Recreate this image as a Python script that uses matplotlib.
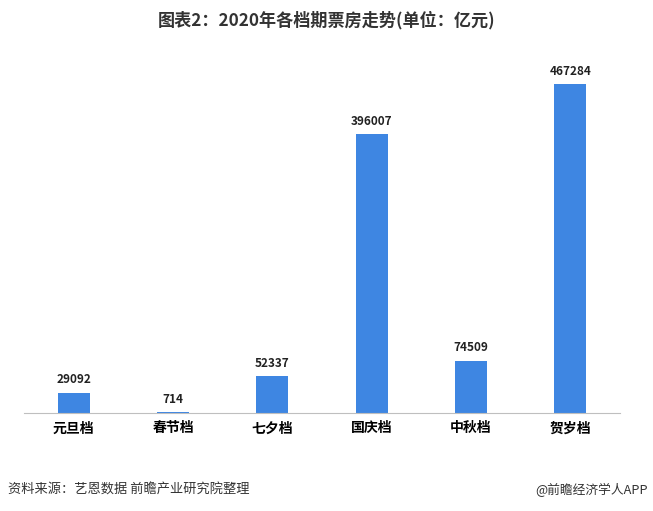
import matplotlib.pyplot as plt

plt.rcParams['font.family'] = ['Noto Sans CJK SC', 'DejaVu Sans']

categories = ['元旦档', '春节档', '七夕档', '国庆档', '中秋档', '贺岁档']
values = [29092, 714, 52337, 396007, 74509, 467284]

fig = plt.figure(figsize=(6.53, 5.11), dpi=100)
ax = fig.add_axes([24/653, 98/511, 596/653, 352/511])

x = range(len(categories))
bars = ax.bar(x, values, width=0.32, color='#3E86E2')
for b, v in zip(bars, values):
    ax.text(b.get_x() + b.get_width()/2, v + 9000, str(v), ha='center', va='bottom',
            fontsize=8.5, fontweight='bold', color='#222222')

ax.set_xlim(-0.5, 5.5)
ax.set_ylim(0, 500000)
ax.set_xticks(list(x))
ax.set_xticklabels(categories, fontsize=10, fontweight='bold')
ax.tick_params(axis='x', length=0, pad=6)
ax.set_yticks([])
for s in ['top', 'right', 'left']:
    ax.spines[s].set_visible(False)
ax.spines['bottom'].set_color('#BFBFBF')

fig.text(0.5, 1 - 20/511, '图表2：2020年各档期票房走势(单位：亿元)', ha='center', va='center',
         fontsize=12.3, fontweight='bold', color='#333333')
fig.text(8/653, 1 - 490/511, '资料来源：艺恩数据 前瞻产业研究院整理', ha='left', va='center',
         fontsize=9.5, color='#333333')
fig.text(648/653, 1 - 490/511, '@前瞻经济学人APP', ha='right', va='center',
         fontsize=9.2, color='#333333')

fig.savefig('out.png', dpi=100)
